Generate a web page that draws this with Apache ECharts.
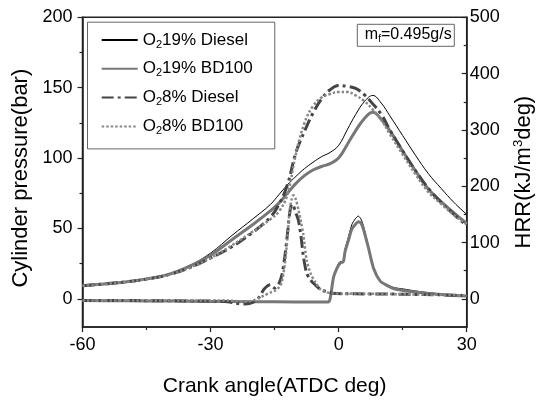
<!DOCTYPE html>
<html>
<head>
<meta charset="utf-8">
<script src="https://cdn.jsdelivr.net/npm/echarts@6/dist/echarts.min.js"></script>
<style>
    html, body { margin: 0; padding: 0; background: #fff; }
    #main { width: 545px; height: 402px; }
</style>
</head>
<body>
<div id="main"></div>
<script>
// 曲线数据（压力 / 放热率）
var seriesNames = ['O2 19% Diesel', 'O2 19% BD100', 'O2 8% Diesel', 'O2 8% BD100'];

// 缸压，左轴
var angP = [-60, -55, -50, -45, -40, -35, -30, -25, -20, -16, -14, -12, -10, -8, -6, -4, -2, 0, 2, 4, 6, 8, 10, 12, 15, 18, 21, 24, 27, 30];
var pD19 = [9.5, 10.8, 12.3, 14.5, 17.5, 23.5, 32.5, 45, 57, 67, 74, 81, 87, 92.5, 97, 101, 104, 109, 120, 131, 140, 144.5, 139, 130, 116, 102, 89, 78.5, 68.5, 60];
var pB19 = [9.3, 10.6, 12, 14.2, 17.2, 23, 31, 42, 53, 62.5, 68, 75, 82, 87.5, 91.5, 94, 96, 100, 109.5, 119.5, 128, 132.5, 127.5, 119.5, 105, 91, 78, 69, 61, 53.5];
var pD8 = [9.3, 10.5, 12, 14, 17, 22, 29, 37, 47.5, 58, 67, 81, 104, 119, 132, 142, 148.5, 151.5, 151, 149.5, 145, 138.5, 131, 120, 105, 91, 78.5, 68.5, 60, 52];
var pB8 = [9.3, 10.5, 12, 14, 17, 22, 29, 38, 48, 56.5, 62, 74, 103, 125, 137, 143, 145.5, 147, 147, 144.5, 140.5, 134.5, 127, 117, 102.5, 88.5, 76, 67.5, 59.5, 53];

// 放热率，右轴
var angH19 = [-60, -50, -40, -30, -20, -10, -2.5, -2, -1.2, -0.4, 0.3, 1.1, 1.5, 2.3, 3.1, 3.9, 4.6, 5.2, 5.8, 7, 8.2, 9.7, 11.3, 13, 15.2, 18, 21.4, 25, 30];
var hD19 = [-3, -3.5, -4, -4.5, -5, -5.5, -5.5, 0, 40, 57, 66, 67, 88, 110, 132, 142, 147, 142, 130, 92, 52, 31, 25, 20, 17.5, 14, 10.5, 8, 5.5];
var hB19 = [-3, -3.5, -4, -4.5, -5, -5.5, -5.5, 0, 38, 54, 63, 66, 84, 104, 124, 132, 137, 135, 124, 90, 54, 32, 24, 18, 15, 12, 9.5, 7, 5];

var angH8 = [-60, -50, -40, -30, -26, -24, -22, -20, -18.5, -17.5, -16, -15, -14, -13.3, -12.6, -12, -11.5, -11, -10.6, -10, -9.4, -8.8, -8.3, -7.5, -6.5, -5.5, -4.3, -3, -1.5, 1, 4, 8, 12, 16, 20, 25, 30];
var hD8 = [-3, -3, -3.5, -4, -5, -8, -9, -6, 4, 17, 25, 19, 27, 42, 75, 115, 150, 168, 165, 152, 139, 110, 78, 46, 33, 25, 17, 13, 10, 9, 9, 8.5, 8.5, 8, 7.5, 7, 6];
var hB8 = [-3, -3, -3, -3, -3, -4, -5, -3, 2, 6, 11, 14, 20, 30, 62, 108, 155, 177, 184, 176, 158, 135, 116, 69, 44, 30, 17, 12, 10, 9, 9.5, 9, 8.5, 8, 7.5, 7, 6];

// 刻度
var xTicks = [-60, -30, 0, 30];
var pTicks = [0, 50, 100, 150, 200];
var pMinor = [25, 75, 125, 175];
var hTicks = [0, 100, 200, 300, 400, 500];
var hMinor = [50, 150, 250, 350, 450];

(function () {
    var myChart = echarts.init(document.getElementById('main'));
    var font = "'Liberation Sans', Arial, sans-serif";

    function zip(xs, ys) {
        return xs.map(function (x, i) { return [x, ys[i]]; });
    }

    var styles = [
        { color: '#000', width: 1, type: 'solid' },
        { color: '#777', width: 3, type: 'solid' },
        { color: '#444', width: 3, type: [12, 4, 3, 4] },
        { color: '#888', width: 2.5, type: [2.5, 2] }
    ];
    var pData = [pD19, pB19, pD8, pB8];
    var hAng = [angH19, angH19, angH8, angH8];
    var hData = [hD19, hB19, hD8, hB8];

    var series = [];
    seriesNames.forEach(function (name, i) {
        series.push({
            name: name, type: 'line', xAxisIndex: 0, yAxisIndex: 0,
            data: zip(angP, pData[i]), symbol: 'none', smooth: 0.4,
            lineStyle: styles[i], itemStyle: { color: styles[i].color }
        });
        series.push({
            name: name, type: 'line', xAxisIndex: 0, yAxisIndex: 1,
            data: zip(hAng[i], hData[i]), symbol: 'none', smooth: 0.25,
            lineStyle: styles[i], itemStyle: { color: styles[i].color }
        });
    });

    var labelStyle = { color: '#000', fontSize: 18, fontFamily: font };
    var axisLine = { show: true, onZero: false, lineStyle: { color: '#222', width: 1.5 } };
    var tickLine = { color: '#222', width: 1.2 };

    var option = {
        animation: false,
        backgroundColor: '#fff',
        grid: {
            left: 82.5, right: 78.3, top: 17.3, bottom: 70.3,
            show: true, borderColor: '#222', borderWidth: 1.5
        },
        title: {
            text: '{m|m}{f|f}{m|=0.495g/s}',
            left: 357.3, top: 23.3,
            padding: [2.5, 3, 2.5, 7.5],
            borderColor: '#666', borderWidth: 1,
            textStyle: {
                fontWeight: 'normal',
                rich: {
                    m: { fontSize: 16, lineHeight: 18, fontWeight: 'normal', color: '#000', fontFamily: font },
                    f: { fontSize: 10, lineHeight: 10, fontWeight: 'normal', verticalAlign: 'bottom', color: '#000', fontFamily: font }
                }
            }
        },
        legend: {
            orient: 'vertical',
            left: 87.5, top: 22.2,
            padding: [9.3, 22, 12.5, 13.2],
            itemGap: 10.3, itemWidth: 36, itemHeight: 14,
            borderColor: '#666', borderWidth: 1,
            itemStyle: { opacity: 0 },
            data: seriesNames,
            formatter: function (name) {
                return '{t|O}{s|2}{t|' + name.slice(3) + '}';
            },
            textStyle: {
                fontSize: 17, fontFamily: font,
                rich: {
                    t: { fontSize: 17, lineHeight: 20, color: '#000', fontFamily: font },
                    s: { fontSize: 11, lineHeight: 11, verticalAlign: 'bottom', color: '#000', fontFamily: font }
                }
            }
        },
        xAxis: {
            type: 'value', min: -60, max: 30, interval: 30,
            name: 'Crank angle(ATDC deg)', nameLocation: 'middle', nameGap: 49,
            nameTextStyle: { color: '#000', fontSize: 21, fontFamily: font },
            axisLine: axisLine,
            axisTick: { show: true, length: 5, lineStyle: tickLine },
            minorTick: { show: true, splitNumber: 2, length: 3, lineStyle: tickLine },
            axisLabel: Object.assign({ margin: 9, customValues: xTicks }, labelStyle),
            splitLine: { show: false }
        },
        yAxis: [
            {
                type: 'value', position: 'left', min: -20, max: 200,
                name: 'Cylinder pressure(bar)', nameLocation: 'middle', nameGap: 41,
                nameTextStyle: { color: '#000', fontSize: 22, fontFamily: font, padding: [0, 12, 0, 0] },
                axisLine: axisLine,
                axisTick: { show: true, length: 5, customValues: pTicks, lineStyle: tickLine },
                axisLabel: Object.assign({ margin: 10, customValues: pTicks }, labelStyle),
                splitLine: { show: false }
            },
            {
                type: 'value', position: 'right', min: -50, max: 500,
                name: '{a|HRR(kJ/m}{b|3}{a|deg)}', nameLocation: 'middle', nameGap: 45,
                nameTextStyle: {
                    rich: {
                        a: { fontSize: 22, lineHeight: 24, color: '#000', fontFamily: font },
                        b: { fontSize: 13, lineHeight: 13, verticalAlign: 'top', color: '#000', fontFamily: font }
                    }
                },
                axisLine: axisLine,
                axisTick: { show: true, inside: true, length: 5, customValues: hTicks, lineStyle: tickLine },
                axisLabel: Object.assign({ margin: 3, customValues: hTicks }, labelStyle),
                splitLine: { show: false }
            },
            {
                // 左轴次刻度
                type: 'value', position: 'left', min: -20, max: 200,
                axisLine: { show: false, onZero: false },
                axisTick: { show: true, length: 3, customValues: pMinor, lineStyle: tickLine },
                axisLabel: { show: false },
                splitLine: { show: false }
            },
            {
                // 右轴次刻度
                type: 'value', position: 'right', min: -50, max: 500,
                axisLine: { show: false, onZero: false },
                axisTick: { show: true, inside: true, length: 3, customValues: hMinor, lineStyle: tickLine },
                axisLabel: { show: false },
                splitLine: { show: false }
            }
        ],
        series: series
    };
    myChart.setOption(option);
    window.addEventListener("resize", function () {
        myChart.resize();
    })
})();
</script>
</body>
</html>
